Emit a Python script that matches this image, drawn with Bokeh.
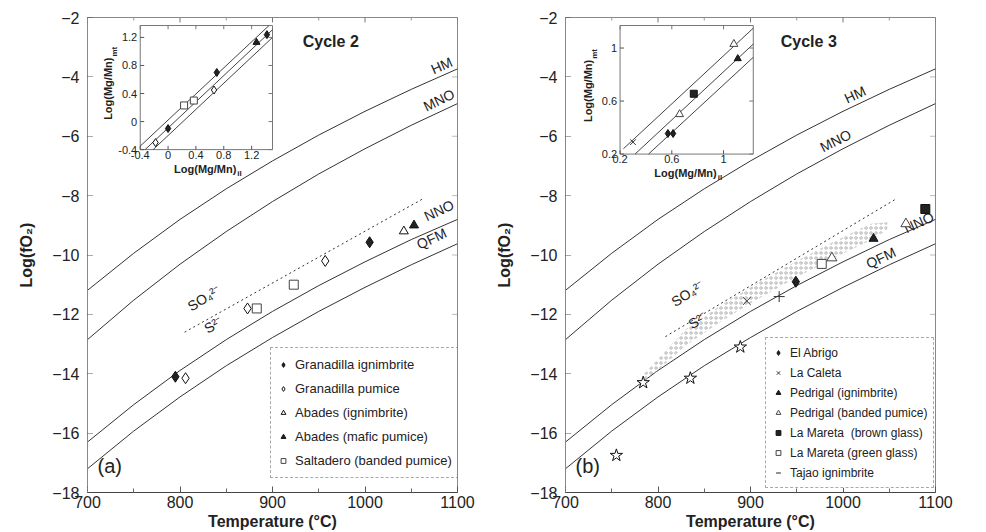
import math
from bokeh.plotting import figure
from bokeh.layouts import row
from bokeh.models import Range1d, FixedTicker, Legend, LegendItem
from bokeh.core.properties import value
from bokeh.embed import file_html
from bokeh.resources import INLINE

FONT = "Liberation Sans"

# ---------------- data ----------------
buffer_T = [700, 750, 800, 850, 900, 950, 1000, 1050, 1100]
hm_f = [-11.19, -9.94, -8.80, -7.77, -6.83, -5.96, -5.16, -4.42, -3.73]
mno_f = [-12.85, -11.52, -10.31, -9.21, -8.20, -7.27, -6.42, -5.63, -4.90]
nno_f = [-16.30, -15.04, -13.89, -12.85, -11.90, -11.03, -10.23, -9.48, -8.80]
qfm_f = [-17.20, -15.93, -14.78, -13.73, -12.78, -11.90, -11.09, -10.33, -9.62]

sulf_T_a = [805, 1063]
sulf_f_a = [-12.6, -8.1]
sulf_T_b = [808, 1058]
sulf_f_b = [-12.75, -8.1]

# Cycle 2
gran_ign_T = [795, 1005]
gran_ign_f = [-14.1, -9.57]
gran_pum_T = [806, 873, 957]
gran_pum_f = [-14.15, -11.8, -10.2]
abades_ign_T = [1042]
abades_ign_f = [-9.2]
abades_maf_T = [1053]
abades_maf_f = [-9.0]
salt_T = [883, 923]
salt_f = [-11.8, -11.0]

# Cycle 2 inset (log Mg/Mn)
in2_gi_x = [0.0, 0.70, 1.42]
in2_gi_y = [-0.10, 0.70, 1.24]
in2_gp_x = [-0.18, 0.66]
in2_gp_y = [-0.30, 0.45]
in2_am_x = [1.27]
in2_am_y = [1.13]
in2_sa_x = [0.23, 0.37]
in2_sa_y = [0.23, 0.30]
in2_lines_x = [[-0.4, 1.45], [-0.33, 1.5], [-0.215, 1.5]]
in2_lines_y = [[-0.35, 1.37], [-0.40, 1.31], [-0.40, 1.20]]
in2_ticks = [-0.4, 0, 0.4, 0.8, 1.2]

# Cycle 3
abrigo_T = [949]
abrigo_f = [-10.9]
caleta_T = [896]
caleta_f = [-11.55]
cross_T = [931]
cross_f = [-11.4]
ped_ign_T = [1033]
ped_ign_f = [-9.45]
ped_band_T = [988, 1068]
ped_band_f = [-10.1, -8.95]
mar_brown_T = [1089]
mar_brown_f = [-8.45]
mar_green_T = [977]
mar_green_f = [-10.3]
star_T = [755, 784, 835, 889]
star_f = [-16.75, -14.3, -14.15, -13.1]
tajao_T = [785, 830, 870, 910, 950, 990, 1030, 1048]
tajao_lo = [-14.3, -13.05, -12.2, -11.45, -10.75, -10.1, -9.5, -9.15]
tajao_hi = [-14.0, -12.5, -11.65, -10.9, -10.2, -9.55, -8.95, -8.9]
tajao_legend_T = [float("nan")]
tajao_legend_f = [float("nan")]

# Cycle 3 inset
in3_ab_x = [0.57, 0.61]
in3_ab_y = [0.355, 0.355]
in3_ca_x = [0.30]
in3_ca_y = [0.29]
in3_pi_x = [1.11]
in3_pi_y = [0.92]
in3_pb_x = [0.66, 1.08]
in3_pb_y = [0.50, 1.03]
in3_mb_x = [0.77]
in3_mb_y = [0.655]
in3_lines_x = [[0.226, 1.23], [0.316, 1.23], [0.42, 1.23]]
in3_lines_y = [[0.24, 1.15], [0.20, 1.03], [0.20, 0.93]]
in3_ticks = [0.2, 0.6, 1.0]

temp_ticks = [700, 800, 900, 1000, 1100]
temp_minor = [750, 850, 950, 1050]
fo2_ticks = [-18, -16, -14, -12, -10, -8, -6, -4, -2]


def base_fig(bl, br):
    p = figure(width=493, height=532, x_range=Range1d(700, 1100), y_range=Range1d(-18, -2),
               output_backend="svg", toolbar_location=None,
               min_border_left=bl, min_border_right=br, min_border_top=17, min_border_bottom=40)
    p.grid.visible = False
    p.outline_line_color = "#888"
    p.background_fill_color = "white"
    p.border_fill_color = "white"
    p.xaxis.ticker = FixedTicker(ticks=temp_ticks, minor_ticks=temp_minor)
    p.yaxis.ticker = FixedTicker(ticks=fo2_ticks)
    for ax in p.xaxis + p.yaxis:
        ax.major_tick_in = 6
        ax.major_tick_out = 0
        ax.minor_tick_in = 4
        ax.minor_tick_out = 0
        ax.major_label_text_font = FONT
        ax.major_label_text_font_size = "16px"
        ax.major_label_text_color = "#222"
        ax.axis_label_text_font = FONT
        ax.axis_label_text_font_size = "16px"
        ax.axis_label_text_font_style = "bold"
        ax.axis_label_text_color = "#222"
        ax.major_tick_line_color = "#555"
        ax.minor_tick_line_color = "#666"
    p.yaxis.minor_tick_line_color = None
    p.xaxis.axis_line_color = "#444"
    p.yaxis.axis_line_color = "#888"
    p.yaxis.axis_line_dash = "2 1"
    p.yaxis.major_tick_line_dash = "1 1"
    p.xaxis.major_label_standoff = 3
    p.xaxis.axis_label_standoff = 2
    p.yaxis.major_label_standoff = 8
    p.yaxis.axis_label_standoff = 14
    p.xaxis.axis_label = "Temperature (°C)"
    p.yaxis.axis_label = "Log(fO₂)"
    # mirrored inward ticks on right and top edges (clipped half-dashes)
    p.scatter(x=[1100] * len(fo2_ticks), y=fo2_ticks, marker="dash", size=10, line_color="#777",
              line_dash="1 1")
    p.scatter(x=temp_ticks, y=[-2] * len(temp_ticks), marker="dash", angle=math.pi / 2, size=10,
              line_color="#777")
    p.scatter(x=temp_minor, y=[-2] * len(temp_minor), marker="dash", angle=math.pi / 2, size=6,
              line_color="#999")
    # buffers
    for f in (hm_f, mno_f, nno_f, qfm_f):
        p.line(buffer_T, f, line_color="#333", line_width=1)
    return p


def curve_labels(p, pos):
    for txt, (x, y, ang) in pos.items():
        p.text(x=[x], y=[y], text=[txt], angle=math.radians(ang), text_align="center",
               text_baseline="middle", text_font=value(FONT), text_font_size="14px", text_color="#222")


def inset(p, xr, yr, xt, yt):
    sub = p.subplot(x_source=Range1d(*xr), y_source=Range1d(*yr),
                    x_target=Range1d(*xt), y_target=Range1d(*yt))
    sub.quad(left=[xr[0]], right=[xr[1]], bottom=[yr[0]], top=[yr[1]], fill_color="white",
             line_color="#777", line_width=1)
    return sub


def inset_axes(sub, xr, yr, ticks):
    dx = (xr[1] - xr[0]) * 0.03
    dy = (yr[1] - yr[0]) * 0.03
    xt = [t for t in ticks if xr[0] <= t <= xr[1]]
    yt = [t for t in ticks if yr[0] <= t <= yr[1]]
    sub.segment(x0=xt, y0=[yr[0]] * len(xt), x1=xt, y1=[yr[0] + dy] * len(xt), line_color="#555")
    sub.segment(x0=xt, y0=[yr[1]] * len(xt), x1=xt, y1=[yr[1] - dy] * len(xt), line_color="#777")
    sub.segment(x0=[xr[0]] * len(yt), y0=yt, x1=[xr[0] + dx] * len(yt), y1=yt, line_color="#555")
    sub.segment(x0=[xr[1]] * len(yt), y0=yt, x1=[xr[1] - dx] * len(yt), y1=yt, line_color="#777")
    tf = dict(text_font=value(FONT), text_color="#222")
    sub.text(x=xt, y=[yr[0]] * len(xt), text=[f"{t:g}" for t in xt], text_align="center",
             text_baseline="top", y_offset=1, text_font_size="11px", **tf)
    sub.text(x=[xr[0]] * len(yt), y=yt, text=[f"{t:g}" for t in yt], text_align="right",
             text_baseline="middle", x_offset=-3, text_font_size="11px", **tf)
    xm = (xr[0] + xr[1]) / 2
    ym = (yr[0] + yr[1]) / 2
    # x label: Log(Mg/Mn) with subscript il
    sub.text(x=[xm], y=[yr[0]], text=["Log(Mg/Mn)"], text_align="right", text_baseline="top",
             x_offset=30, y_offset=13, text_font_size="11px", text_font_style="bold", **tf)
    sub.text(x=[xm], y=[yr[0]], text=["il"], text_align="left", text_baseline="top",
             x_offset=31, y_offset=19, text_font_size="8px", text_font_style="bold", **tf)
    # y label: Log(Mg/Mn) with subscript mt (rotated)
    sub.text(x=[xr[0]], y=[ym], text=["Log(Mg/Mn)"], angle=math.pi / 2, text_align="right",
             text_baseline="bottom", x_offset=-26, y_offset=-30, text_font_size="11px",
             text_font_style="bold", **tf)
    sub.text(x=[xr[0]], y=[ym], text=["mt"], angle=math.pi / 2, text_align="left",
             text_baseline="bottom", x_offset=-21, y_offset=-31, text_font_size="8px",
             text_font_style="bold", **tf)


def mk(target, x, y, marker, fill, size, line="#111"):
    return target.scatter(x=x, y=y, marker=marker, size=size, fill_color=fill, line_color=line, line_width=1)


def style_legend(leg, loc, lh, fs):
    leg.location = loc
    leg.label_text_font = FONT
    leg.label_text_font_size = fs
    leg.label_text_color = "#222"
    leg.label_height = lh
    leg.glyph_height = lh
    leg.glyph_width = 12
    leg.label_standoff = 6
    leg.spacing = 3
    leg.padding = 6
    leg.margin = 0
    leg.border_line_color = "#555"
    leg.border_line_dash = "1 1"
    leg.background_fill_color = "white"
    leg.background_fill_alpha = 1


# ---------------- Cycle 2 ----------------
p1 = base_fig(87, 36)
p1.line(sulf_T_a, sulf_f_a, line_color="#333", line_dash="2 3", line_width=1)
curve_labels(p1, {"HM": (1083, -3.62, 24), "MNO": (1080, -4.78, 26), "NNO": (1080, -8.5, 25),
                  "QFM": (1072, -9.45, 25), "SO₄²⁻": (826, -11.45, 32), "S²⁻": (836, -12.35, 32)})
r_gi = mk(p1, gran_ign_T, gran_ign_f, "diamond", "#222", 11)
r_gp = mk(p1, gran_pum_T, gran_pum_f, "diamond", "white", 11)
r_ai = mk(p1, abades_ign_T, abades_ign_f, "triangle", "white", 9)
r_am = mk(p1, abades_maf_T, abades_maf_f, "triangle", "#222", 9)
r_sa = mk(p1, salt_T, salt_f, "square", "white", 9, "#444")
p1.text(x=[963], y=[-2.8], text=["Cycle 2"], text_align="center", text_baseline="middle",
        text_font=value(FONT), text_font_size="16px", text_font_style="bold", text_color="#222")
p1.text(x=[724], y=[-17.1], text=["(a)"], text_align="center", text_baseline="middle",
        text_font=value(FONT), text_font_size="20px", text_color="#222")
leg1 = Legend(items=[LegendItem(label="Granadilla ignimbrite", renderers=[r_gi]),
                     LegendItem(label="Granadilla pumice", renderers=[r_gp]),
                     LegendItem(label="Abades (ignimbrite)", renderers=[r_ai]),
                     LegendItem(label="Abades (mafic pumice)", renderers=[r_am]),
                     LegendItem(label="Saltadero (banded pumice)", renderers=[r_sa])])
style_legend(leg1, (183, 14), 21, "13px")
p1.add_layout(leg1, "center")

xr2, yr2 = (-0.4, 1.5), (-0.4, 1.37)
s1 = inset(p1, xr2, yr2, (757, 900), (-6.45, -2.27))
for lx, ly in zip(in2_lines_x, in2_lines_y):
    s1.line(lx, ly, line_color="#444", line_width=1)
inset_axes(s1, xr2, yr2, in2_ticks)
mk(s1, in2_gi_x, in2_gi_y, "diamond", "#222", 8)
mk(s1, in2_gp_x, in2_gp_y, "diamond", "white", 8)
mk(s1, in2_am_x, in2_am_y, "triangle", "#222", 7)
mk(s1, in2_sa_x, in2_sa_y, "square", "white", 7, "#444")

# ---------------- Cycle 3 ----------------
p2 = base_fig(72, 51)
p2.varea(x=tajao_T, y1=tajao_lo, y2=tajao_hi, fill_alpha=0, hatch_pattern="ring",
         hatch_color="#b5b5b5", hatch_scale=5, hatch_weight=1)
p2.line(sulf_T_b, sulf_f_b, line_color="#333", line_dash="2 3", line_width=1)
curve_labels(p2, {"HM": (1013, -4.6, 25), "MNO": (992, -6.15, 27), "NNO": (1082, -8.9, 25),
                  "QFM": (1041, -10.1, 25), "SO₄²⁻": (832, -11.3, 32), "S²⁻": (843, -12.2, 32)})
mk(p2, star_T, star_f, "star", "white", 13)
r_ab = mk(p2, abrigo_T, abrigo_f, "diamond", "#222", 11)
r_ca = mk(p2, caleta_T, caleta_f, "x", "white", 11, "#333")
mk(p2, cross_T, cross_f, "cross", "white", 11, "#333")
r_pi = mk(p2, ped_ign_T, ped_ign_f, "triangle", "#222", 9)
r_pb = mk(p2, ped_band_T, ped_band_f, "triangle", "white", 10, "#444")
r_mb = mk(p2, mar_brown_T, mar_brown_f, "square", "#222", 9)
r_mg = mk(p2, mar_green_T, mar_green_f, "square", "white", 9, "#444")
r_tj = p2.scatter(x=tajao_legend_T, y=tajao_legend_f, marker="dash", size=12, line_color="#222")
p2.text(x=[963], y=[-2.8], text=["Cycle 3"], text_align="center", text_baseline="middle",
        text_font=value(FONT), text_font_size="16px", text_font_style="bold", text_color="#222")
p2.text(x=[724], y=[-17.1], text=["(b)"], text_align="center", text_baseline="middle",
        text_font=value(FONT), text_font_size="20px", text_color="#222")
leg2 = Legend(items=[LegendItem(label="El Abrigo", renderers=[r_ab]),
                     LegendItem(label="La Caleta", renderers=[r_ca]),
                     LegendItem(label="Pedrigal (ignimbrite)", renderers=[r_pi]),
                     LegendItem(label="Pedrigal (banded pumice)", renderers=[r_pb]),
                     LegendItem(label="La Mareta  (brown glass)", renderers=[r_mb]),
                     LegendItem(label="La Mareta (green glass)", renderers=[r_mg]),
                     LegendItem(label="Tajao ignimbrite", renderers=[r_tj])])
style_legend(leg2, (200, 4), 17, "12px")
p2.add_layout(leg2, "center")

xr3, yr3 = (0.2, 1.23), (0.2, 1.17)
s2 = inset(p2, xr3, yr3, (759, 903), (-6.6, -2.27))
for lx, ly in zip(in3_lines_x, in3_lines_y):
    s2.line(lx, ly, line_color="#444", line_width=1)
inset_axes(s2, xr3, yr3, in3_ticks)
mk(s2, in3_ca_x, in3_ca_y, "x", "white", 8, "#333")
mk(s2, in3_ab_x, in3_ab_y, "diamond", "#222", 8)
mk(s2, in3_pi_x, in3_pi_y, "triangle", "#222", 7)
mk(s2, in3_pb_x, in3_pb_y, "triangle", "white", 8, "#444")
mk(s2, in3_mb_x, in3_mb_y, "square", "#222", 7)

layout = row(p1, p2)
open("out.html", "w").write(file_html(layout, INLINE))
